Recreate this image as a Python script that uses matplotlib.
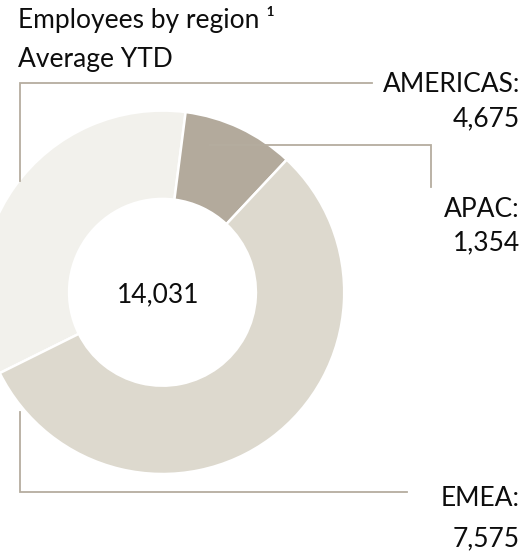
import matplotlib
matplotlib.use("Agg")
import matplotlib.pyplot as plt

# ---- data ----
regions = ["AMERICAS", "APAC", "EMEA"]
employees = [4675, 1354, 7575]
total_label = "14,031"
title = "Employees by region"
subtitle = "Average YTD"
value_labels = ["4,675", "1,354", "7,575"]

# ---- style ----
W, H = 526, 554
colors = ["#F2F1EC", "#B3AA9C", "#DDD9CE"]
line_color = "#B5AD9F"
text_color = "#0d0d0d"
FONT = ["Lato", "DejaVu Sans"]
FS = 19

fig = plt.figure(figsize=(W / 100, H / 100), dpi=100)
ax = fig.add_axes([0, 0, 1, 1])

def Y(y):
    return H - y

cx, cy = 162.5, 292.3
R, r_in = 181.7, 93.4

ax.pie(employees, colors=colors, startangle=206.4, counterclock=False,
       radius=R, center=(cx, Y(cy)),
       wedgeprops=dict(width=R - r_in, edgecolor="white", linewidth=1.8))

ax.set_xlim(0, W)
ax.set_ylim(0, H)
ax.set_aspect("equal")
ax.axis("off")

lw = 1.3
# AMERICAS bracket
ax.plot([20, 20, 372], [Y(181), Y(83), Y(83)], color=line_color, lw=lw, solid_joinstyle="miter")
# APAC bracket
ax.plot([210, 431, 431], [Y(145), Y(145), Y(187)], color=line_color, lw=lw, solid_joinstyle="miter")
# EMEA bracket
ax.plot([20, 20, 407], [Y(412), Y(492), Y(492)], color=line_color, lw=lw, solid_joinstyle="miter")

tx = 520
label_pos = [(92, 126), (217, 250), (506, 546)]
for name, val, (y1, y2) in zip(regions, value_labels, label_pos):
    ax.text(tx, Y(y1), name + ":", ha="right", va="baseline", fontsize=FS,
            family=FONT, color=text_color)
    ax.text(tx, Y(y2), val, ha="right", va="baseline", fontsize=FS,
            family=FONT, color=text_color)

ax.text(18, Y(28), title + " \u00b9", ha="left", va="baseline", fontsize=FS,
        family=FONT, color=text_color)
ax.text(18, Y(67), subtitle, ha="left", va="baseline", fontsize=FS,
        family=FONT, color=text_color)

ax.text(158, Y(302), total_label, ha="center", va="baseline", fontsize=FS,
        family=FONT, color=text_color)

fig.savefig("out.png", dpi=100)
